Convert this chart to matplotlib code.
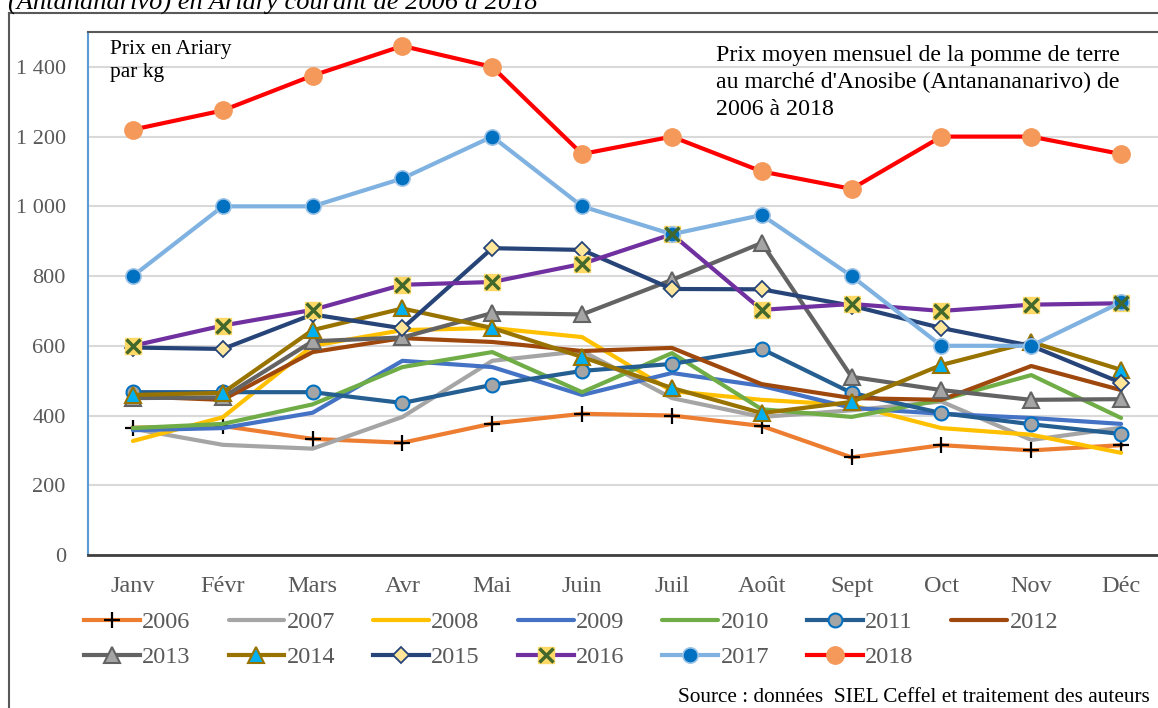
import matplotlib
matplotlib.use("Agg")
import matplotlib.pyplot as plt
from matplotlib.lines import Line2D
from matplotlib.legend_handler import HandlerTuple

plt.rcParams['font.family'] = ['Liberation Serif', 'DejaVu Serif']

months = ["Janv", "Févr", "Mars", "Avr", "Mai", "Juin", "Juil", "Août", "Sept", "Oct", "Nov", "Déc"]
yticks = [0, 200, 400, 600, 800, 1000, 1200, 1400]
ytick_labels = ["0", "200", "400", "600", "800", "1 000", "1 200", "1 400"]

p2006 = [365, 370, 333, 322, 377, 405, 400, 370, 280, 315, 300, 315]
p2007 = [362, 316, 305, 396, 557, 585, 450, 396, 415, 440, 330, 365]
p2008 = [327, 395, 600, 645, 651, 625, 470, 445, 430, 364, 345, 293]
p2009 = [358, 364, 408, 557, 539, 459, 522, 485, 422, 405, 393, 376]
p2010 = [364, 376, 432, 539, 582, 467, 579, 418, 396, 445, 516, 393]
p2011 = [467, 467, 467, 436, 488, 528, 548, 591, 465, 407, 375, 347]
p2012 = [455, 445, 582, 622, 611, 585, 594, 490, 450, 445, 542, 473]
p2013 = [450, 452, 613, 624, 694, 690, 789, 895, 511, 473, 445, 447]
p2014 = [459, 465, 645, 707, 651, 568, 479, 407, 439, 545, 611, 531]
p2015 = [595, 591, 690, 650, 880, 875, 763, 762, 715, 651, 600, 494]
p2016 = [600, 658, 703, 775, 783, 835, 920, 703, 720, 700, 718, 722]
p2017 = [800, 1000, 1000, 1080, 1200, 1000, 920, 975, 800, 600, 600, 725]
p2018 = [1220, 1275, 1375, 1460, 1400, 1150, 1200, 1100, 1050, 1200, 1200, 1150]

fig = plt.figure(figsize=(11.58, 7.08), dpi=100)
W, H = 1158, 708
ax_left, ax_right, ax_top, ax_bottom = 88, 1166, 32, 555
ax = fig.add_axes([ax_left / W, 1 - ax_bottom / H, (ax_right - ax_left) / W, (ax_bottom - ax_top) / H])

x = list(range(len(months)))
lw = 3.0
handles = {}

def plain(data, color):
    l, = ax.plot(x, data, color=color, lw=lw, solid_capstyle='round', zorder=3)
    return l

handles['2006'] = ax.plot(x, p2006, color='#ED7D31', lw=lw, marker='+', ms=11, mew=1.6, mec='black', zorder=3)[0]
handles['2007'] = plain(p2007, '#A5A5A5')
handles['2008'] = plain(p2008, '#FFC000')
handles['2009'] = plain(p2009, '#4472C4')
handles['2010'] = plain(p2010, '#70AD47')
handles['2011'] = ax.plot(x, p2011, color='#255E91', lw=lw, marker='o', ms=10, mfc='#A5A5A5', mec='#0070C0', mew=1.5, zorder=3)[0]
handles['2012'] = plain(p2012, '#9E480E')
handles['2013'] = ax.plot(x, p2013, color='#636363', lw=lw, marker='^', ms=11, mfc='#A5A5A5', mec='#636363', mew=1.5, zorder=3)[0]
handles['2014'] = ax.plot(x, p2014, color='#997300', lw=lw, marker='^', ms=12, mfc='#00B0F0', mec='#997300', mew=1.5, zorder=3)[0]
handles['2015'] = ax.plot(x, p2015, color='#264478', lw=lw, marker='D', ms=8, mfc='#FFE699', mec='#264478', mew=1.3, zorder=3)[0]
h1 = ax.plot(x, p2016, color='#7030A0', lw=lw, marker='s', ms=11, mfc='#FFD966', mec='#FFD966', zorder=3)[0]
h2 = ax.plot(x, p2016, ls='none', marker='x', ms=10, mew=2.5, mec='#43682B', zorder=3.1)[0]
handles['2016'] = (h1, h2)
handles['2017'] = ax.plot(x, p2017, color='#7FB2E0', lw=lw, marker='o', ms=11, mfc='#0070C0', mec='#9DC3E6', mew=1.2, zorder=3)[0]
handles['2018'] = ax.plot(x, p2018, color='#FF0000', lw=lw, marker='o', ms=12.5, mfc='#F4995A', mec='#F4995A', zorder=3)[0]

ax.set_xlim(-0.5, 11.5)
ax.set_ylim(0, 1500)
ax.set_yticks(yticks)
ax.set_yticklabels(ytick_labels)
ax.set_xticks(x)
ax.set_xticklabels(months)
ax.tick_params(axis='both', length=0, labelcolor='#595959')
ax.tick_params(axis='y', pad=16, labelsize=16)
ax.tick_params(axis='x', pad=15, labelsize=17.5)
ax.grid(axis='y', color='#D9D9D9', lw=1.5, zorder=0)
ax.set_axisbelow(True)
ax.spines['left'].set_color('#5B9BD5')
ax.spines['left'].set_linewidth(1.5)
ax.spines['bottom'].set_color('#404040')
ax.spines['bottom'].set_linewidth(2)
ax.spines['top'].set_color('#595959')
ax.spines['top'].set_linewidth(1.5)
ax.spines['right'].set_visible(False)

fig.text(110 / W, 1 - 40 / H, "Prix en Ariary\npar kg", fontsize=15.4,
         va='top', ha='left', linespacing=1.3)
fig.text(716 / W, 1 - 45 / H, "Prix moyen mensuel de la pomme de terre\nau marché d'Anosibe (Antanananarivo) de\n2006 à 2018",
         fontsize=17.2, va='top', ha='left', linespacing=1.36)

order_row1 = ['2006', '2007', '2008', '2009', '2010', '2011', '2012']
order_row2 = ['2013', '2014', '2015', '2016', '2017', '2018']
labels = []
for i in range(7):
    labels.append(order_row1[i])
    if i < len(order_row2):
        labels.append(order_row2[i])

leg = fig.legend([handles[l] for l in labels], labels, ncol=7, loc='upper left',
                 bbox_to_anchor=(84 / W, 1 - 611 / H), frameon=False, fontsize=17.5,
                 handlelength=2.3, handletextpad=0.1, columnspacing=1.55, labelspacing=0.55,
                 handler_map={tuple: HandlerTuple(ndivide=1)}, borderpad=0, borderaxespad=0)
for t in leg.get_texts():
    t.set_color('#595959')

fig.text(1150 / W, 1 - 698 / H, "Source : données  SIEL Ceffel et traitement des auteurs", ha='right', va='center',
         fontsize=15.3, color='black')
fig.text(8 / W, 1 - 3 / H, "(Antananarivo) en Ariary courant de 2006 à 2018", ha='left', va='center',
         fontsize=19, style='italic', color='black')

fig.add_artist(Line2D([9 / W, 9 / W], [0, 1 - 13 / H], transform=fig.transFigure, color='#595959', lw=1.5))
fig.add_artist(Line2D([9 / W, 1], [1 - 13 / H, 1 - 13 / H], transform=fig.transFigure, color='#595959', lw=1.5))

fig.savefig("out.png", dpi=100)
